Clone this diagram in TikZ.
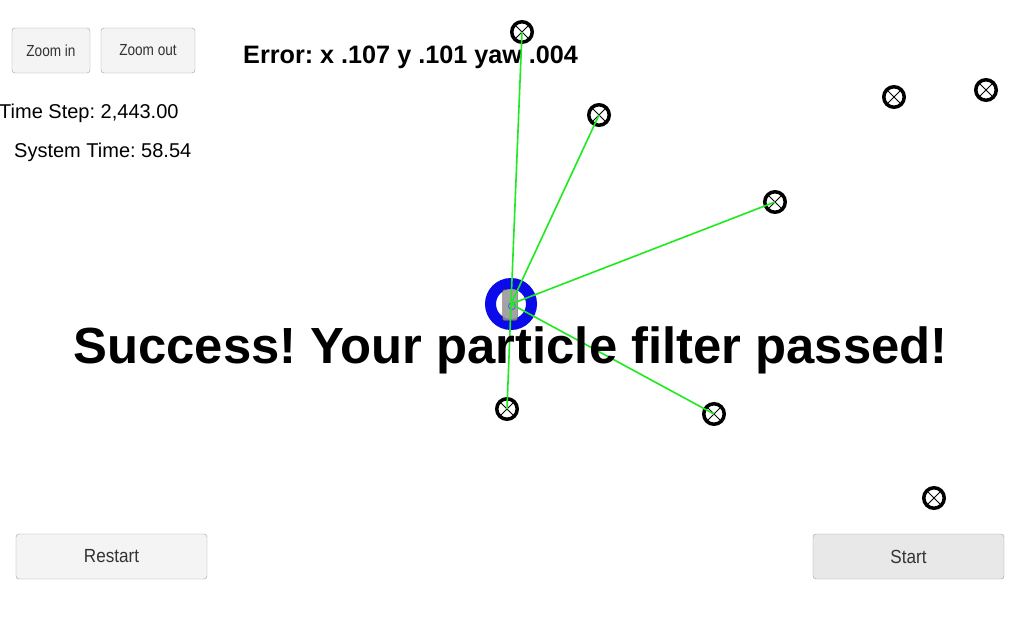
\documentclass[tikz,border=0pt]{standalone}
\usepackage{fontspec}
\setmainfont{Liberation Sans}
\usetikzlibrary{positioning}
\usetikzlibrary{calc}

\definecolor{beam}{RGB}{30,235,30}
\definecolor{ringblue}{RGB}{10,10,235}
\definecolor{btnfill}{RGB}{244,244,244}
\definecolor{btndark}{RGB}{232,232,232}

\begin{document}
\frenchspacing
\begin{tikzpicture}[x=1pt,y=-1pt,
                    landmark/.style={circle,draw,line width=3.5pt,minimum size=20.5pt,inner sep=0pt,
                      path picture={\draw[line width=1pt]
                        (path picture bounding box.north west) -- (path picture bounding box.south east)
                        (path picture bounding box.north east) -- (path picture bounding box.south west);}},
                    button/.style={draw=gray!75,rounded corners=3pt,fill=btnfill,text=black!80,inner sep=0pt,minimum height=45pt},
                    info/.style={font=\fontsize{20}{23}\selectfont,inner sep=0pt,anchor=base west}]
\useasboundingbox (0,0) rectangle (1024,640);
\fill[white] (0,0) rectangle (1024,640);

% buttons
\node[button,minimum width=78pt] (zin) at (51,50.5) {\fontsize{16}{18}\selectfont\scalebox{0.85}[1]{Zoom in}};
\node[button,minimum width=94pt] (zout) at (148,50.5) {\fontsize{16}{18}\selectfont\scalebox{0.85}[1]{Zoom out}};
\node[button,minimum width=191pt] (restart) at (111.5,556.5) {\fontsize{19}{21}\selectfont\scalebox{0.9}[1]{Restart}};
\node[button,minimum width=191pt,fill=btndark] (start) at (908.5,556.5) {\fontsize{19}{21}\selectfont\scalebox{0.9}[1]{Start}};

% status texts
\node[info] (tstep) at (-1,118) {Time Step: 2,443.00};
\node[info] (stime) at (14,157) {System Time: 58.54};
\node[inner sep=0pt,anchor=base west,font=\fontsize{25.2}{28}\selectfont\bfseries] (err) at (243,63) {Error: x .107 y .101 yaw .004};

% car
\node[circle,draw=ringblue,line width=11pt,minimum size=41pt,inner sep=0pt] (car) at (511,304) {};
\node[draw=black!75,fill=gray!85,fill opacity=0.85,rounded corners=2pt,minimum width=15pt,minimum height=31pt,inner sep=0pt] (body) at (510,305) {};
\node[circle,draw=ringblue!70,line width=0.8pt,minimum size=7pt,inner sep=0pt] (hub) at (512,306) {};

% landmarks
\node[landmark] (1) at (522,32) {};
\node[landmark] (2) at (599,115) {};
\node[landmark] (3) at (775,202) {};
\node[landmark] (4) at (894,97) {};
\node[landmark] (5) at (986,90) {};
\node[landmark] (6) at (507,409) {};
\node[landmark] (7) at (714,414) {};
\node[landmark] (8) at (934,498) {};

\path[draw=beam,line width=1.6pt]
  (car.center) edge (1.center)
               edge (2.center)
               edge (3.center)
               edge (6.center)
               edge (7.center);

\node[inner sep=0pt,anchor=base,font=\fontsize{50.8}{56}\selectfont\bfseries] (msg) at (510.5,363) {Success! Your particle filter passed!};
\end{tikzpicture}
\end{document}
